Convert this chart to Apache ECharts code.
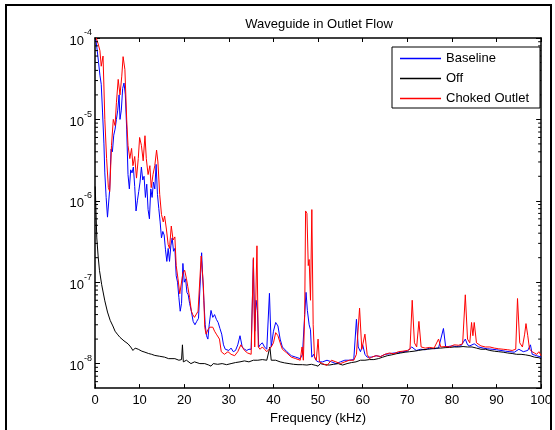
<!DOCTYPE html>
<html>
<head>
<meta charset="utf-8">
<script src="https://cdn.jsdelivr.net/npm/echarts@6/dist/echarts.min.js"></script>
<style>
html,body{margin:0;padding:0;background:#fff;}
#chart{width:555px;height:430px;}
</style>
</head>
<body>
<div id="chart"></div>
<script>
// ---------- data (frequency kHz, amplitude) ----------
const seriesNames = ['Baseline', 'Off', 'Choked Outlet'];
const titleText = 'Waveguide in Outlet Flow';
const xAxisName = 'Frequency (kHz)';
const xTicks = [0, 10, 20, 30, 40, 50, 60, 70, 80, 90, 100];
const yTickExponents = [-8, -7, -6, -5, -4];
const yMinorTicks = [6e-9,7e-9,8e-9,9e-9,
  2e-8,3e-8,4e-8,5e-8,6e-8,7e-8,8e-8,9e-8,
  2e-7,3e-7,4e-7,5e-7,6e-7,7e-7,8e-7,9e-7,
  2e-6,3e-6,4e-6,5e-6,6e-6,7e-6,8e-6,9e-6,
  2e-5,3e-5,4e-5,5e-5,6e-5,7e-5,8e-5,9e-5];

const baseline = [
[0.2,9.5e-5],[0.5,7e-5],[0.8,5e-5],[1.1,3.5e-5],[1.4,2.7e-5],[1.7,1.2e-5],[2.0,5e-6],[2.2,2.2e-6],[2.5,1.1e-6],[2.8,6.3e-7],
[3.0,6e-7],[3.3,1.4e-6],[3.6,4.3e-6],[3.9,4.0e-6],[4.2,6.4e-6],[4.5,7.6e-6],[4.8,1.0e-5],[5.1,1.3e-5],[5.4,2.0e-5],[5.6,1.0e-5],
[5.9,1.3e-5],[6.2,2.4e-5],[6.5,2.8e-5],[6.8,2.0e-5],[7.1,7.6e-6],[7.4,2.1e-6],[7.7,1.4e-6],[8.0,2.4e-6],[8.3,2.2e-6],[8.6,2.6e-6],
[8.9,1.5e-6],[9.2,7.5e-7],[9.5,1.0e-6],[9.8,1.3e-6],[10.1,1.7e-6],[10.4,2.6e-6],[10.7,1.8e-6],[11.0,2.0e-6],[11.3,1.1e-6],[11.6,1.6e-6],
[11.9,7.8e-7],[12.2,6e-7],[12.5,1.4e-6],[12.8,1.1e-6],[13.1,1.7e-6],[13.4,1.4e-6],[13.7,2.8e-6],[14.0,1.2e-6],[14.3,8e-7],[14.6,5.5e-7],
[14.9,3.5e-7],[15.2,4.2e-7],[15.5,3.8e-7],[15.8,2.5e-7],[16.1,1.8e-7],[16.4,2.6e-7],[16.7,1.8e-7],[17.0,2.8e-7],[17.3,3.5e-7],[17.6,2.4e-7],
[17.9,2.6e-7],[18.2,1.2e-7],[18.5,1.0e-7],[18.8,6.5e-8],[19.1,4.4e-8],[19.4,5.5e-8],[19.7,1.7e-7],[20.0,1.0e-7],[20.3,1.1e-7],[20.6,7.5e-8],
[20.9,7e-8],[21.2,5.5e-8],[21.6,4.4e-8],[22.0,3.3e-8],[22.4,3.0e-8],[22.8,3.3e-8],[23.2,3.6e-8],[23.6,3.5e-8],[23.9,2.3e-7],[24.1,1.3e-7],
[24.4,6e-8],[24.7,3e-8],[25.0,2.2e-8],[25.3,2.0e-8],[25.6,3e-8],[26.0,4.5e-8],[26.4,3.7e-8],[26.8,4e-8],[27.2,3.5e-8],[27.6,3.2e-8],
[28.0,2.7e-8],[28.4,2.3e-8],[28.8,1.7e-8],[29.2,1.5e-8],[29.6,1.55e-8],[30.0,1.45e-8],[30.5,1.55e-8],[31.0,1.4e-8],[31.5,1.45e-8],[32.0,1.7e-8],
[32.5,2.2e-8],[33.0,1.6e-8],[33.5,1.5e-8],[34.0,1.45e-8],[34.5,1.5e-8],[35.0,1.5e-8],[35.5,1.9e-7],[35.8,2.5e-8],[36.1,6e-8],[36.4,4.5e-8],
[36.7,1.6e-8],[37.0,1.7e-8],[37.5,1.8e-8],[38.0,1.6e-8],[38.5,1.5e-8],[39.1,7.3e-8],[39.5,1.6e-8],[40.0,2.5e-8],[40.5,3.2e-8],[41.0,2.9e-8],
[41.5,2.0e-8],[42.0,1.6e-8],[43.0,1.4e-8],[44.0,1.25e-8],[45.0,1.2e-8],[46.0,1.15e-8],[46.5,1.3e-8],[47.0,4e-8],[47.3,7.5e-8],[47.6,4.5e-8],
[48.0,3.0e-8],[48.3,2.6e-8],[48.6,1.2e-8],[49.0,1.3e-8],[49.5,1.1e-8],[50.0,1.05e-8],[51,1.05e-8],[52,1.1e-8],[53,1.05e-8],[54,1.0e-8],
[55,1.05e-8],[56,1.1e-8],[57,1.1e-8],[58,1.12e-8],[58.6,3.5e-8],[59.0,1.6e-8],[59.5,1.4e-8],[60.0,1.7e-8],[60.5,1.3e-8],[61,1.2e-8],
[62,1.2e-8],[63,1.25e-8],[64,1.22e-8],[65,1.3e-8],[66,1.32e-8],[67,1.35e-8],[68,1.36e-8],[69,1.4e-8],[70,1.42e-8],[71,1.6e-8],
[72,1.45e-8],[73,1.5e-8],[74,1.48e-8],[75,1.55e-8],[76,1.52e-8],[77,1.55e-8],[78.1,2.7e-8],[78.6,1.6e-8],[79,1.58e-8],[80,1.65e-8],
[81,1.62e-8],[82,1.65e-8],[83,2.0e-8],[83.5,1.7e-8],[84,1.65e-8],[85,1.75e-8],[86,1.6e-8],[87,1.55e-8],[88,1.52e-8],[89,1.5e-8],
[90,1.48e-8],[91,1.45e-8],[92,1.42e-8],[93,1.4e-8],[94,1.38e-8],[95,1.5e-8],[96,1.4e-8],[97,1.45e-8],[97.6,1.7e-8],[98,1.3e-8],
[99,1.25e-8],[100,1.2e-8]
];

const off = [
[0.05,1.5e-6],[0.2,8e-7],[0.4,3.5e-7],[0.7,2.1e-7],[1.0,1.4e-7],[1.5,9.3e-8],[2.2,5.9e-8],[2.8,4.3e-8],[3.4,3.4e-8],[4.0,2.9e-8],
[4.5,2.5e-8],[5.0,2.3e-8],[5.6,2.1e-8],[6.5,1.9e-8],[7.4,1.75e-8],[8.0,1.6e-8],[8.5,1.45e-8],[9.0,1.55e-8],[9.7,1.5e-8],[10.5,1.42e-8],
[11.2,1.38e-8],[12.0,1.33e-8],[12.7,1.3e-8],[13.4,1.26e-8],[14.5,1.23e-8],[15.6,1.2e-8],[16.5,1.15e-8],[17.9,1.15e-8],[18.8,1.1e-8],[19.4,1.12e-8],
[19.6,1.7e-8],[19.8,1.05e-8],[20.5,1.1e-8],[21.5,1.0e-8],[22.3,1.05e-8],[23.5,1.0e-8],[24.6,1.0e-8],[25.5,9.6e-9],[26.0,9.3e-9],[26.5,1.0e-8],
[27.5,9.8e-9],[28.5,1.0e-8],[29.5,9.7e-9],[30.5,1.0e-8],[31.5,1.03e-8],[32.5,1.05e-8],[33.5,1.08e-8],[34.5,1.05e-8],[35.5,1.1e-8],[36.5,1.1e-8],
[37.5,1.12e-8],[38.5,1.1e-8],[39.2,1.6e-8],[39.5,1.1e-8],[40.5,1.1e-8],[41.5,1.05e-8],[42.5,1.02e-8],[43.5,1.0e-8],[44.5,9.8e-9],[45.5,9.7e-9],
[46.5,9.7e-9],[47.5,9.6e-9],[48.5,9.8e-9],[49.5,9.5e-9],[50.0,9.3e-9],[50.5,1.0e-8],[51.5,9.7e-9],[52.5,9.6e-9],[53.5,9.8e-9],[54.5,1.0e-8],
[55.5,9.6e-9],[56.5,1.0e-8],[57.5,1.03e-8],[58.5,1.05e-8],[59.5,1.1e-8],[60.5,1.1e-8],[61.5,1.12e-8],[62.5,1.12e-8],[63.5,1.15e-8],[64.5,1.2e-8],
[65.5,1.25e-8],[66.5,1.28e-8],[67.5,1.32e-8],[68.5,1.35e-8],[69.5,1.38e-8],[70.5,1.4e-8],[71.5,1.42e-8],[72.5,1.45e-8],[73.5,1.48e-8],[74.5,1.5e-8],
[75.5,1.52e-8],[76.5,1.55e-8],[77.5,1.55e-8],[78.5,1.57e-8],[79.5,1.58e-8],[80.5,1.6e-8],[81.5,1.6e-8],[82.5,1.62e-8],[83.5,1.6e-8],[84.5,1.6e-8],
[85.5,1.55e-8],[86.5,1.5e-8],[87.5,1.5e-8],[88.5,1.45e-8],[89.5,1.42e-8],[90.5,1.4e-8],[91.5,1.38e-8],[92.5,1.35e-8],[93.5,1.33e-8],[94.5,1.3e-8],
[95.5,1.3e-8],[96.5,1.28e-8],[97.5,1.25e-8],[98.5,1.2e-8],[99.5,1.18e-8],[100,1.15e-8]
];

const choked = [
[0.3,1.0e-4],[0.7,8.5e-5],[1.1,7e-5],[1.4,4.5e-5],[1.8,6e-5],[2.0,2.5e-5],[2.2,1e-5],[2.6,3.3e-6],[3.0,1.45e-6],[3.3,1.3e-6],
[3.7,4.8e-6],[4.1,1.0e-5],[4.5,8.4e-6],[4.8,1.6e-5],[5.2,3.1e-5],[5.6,2.0e-5],[6.0,3.4e-5],[6.3,5.9e-5],[6.7,4.1e-5],[7.1,1.0e-5],
[7.4,4.8e-6],[7.8,3.3e-6],[8.2,4.4e-6],[8.5,2.7e-6],[8.9,3.5e-6],[9.3,1.9e-6],[9.7,3.3e-6],[10.0,6e-6],[10.4,4.8e-6],[10.8,3.1e-6],
[11.2,6.3e-6],[11.5,3.3e-6],[11.9,2.1e-6],[12.3,2.7e-6],[12.6,1.45e-6],[13.0,2.1e-6],[13.4,2.7e-6],[13.8,4.2e-6],[14.1,3.0e-6],[14.5,1.2e-6],
[14.9,6.8e-7],[15.3,5.5e-7],[15.6,6.5e-7],[16.0,4.5e-7],[16.4,2.9e-7],[16.7,2.6e-7],[17.1,4.9e-7],[17.5,3.3e-7],[17.9,3.6e-7],[18.2,1.6e-7],
[18.6,1.1e-7],[19.0,7.2e-8],[19.3,7.5e-8],[19.7,1.3e-7],[20.1,1.4e-7],[20.5,1.1e-7],[20.8,8.8e-8],[21.2,6.5e-8],[21.6,4.4e-8],[21.9,4.0e-8],
[22.3,3.7e-8],[22.7,3.6e-8],[23.1,4.4e-8],[23.4,4.4e-8],[23.8,2.1e-7],[24.0,1.5e-7],[24.3,9e-8],[24.6,2.8e-8],[24.9,2.3e-8],[25.3,2.6e-8],
[25.7,2.8e-8],[26.0,2.7e-8],[26.4,2.8e-8],[26.8,2.5e-8],[27.2,2.3e-8],[27.5,2.2e-8],[27.9,2.0e-8],[28.3,1.4e-8],[28.6,1.35e-8],[29.0,1.3e-8],
[29.8,1.4e-8],[30.5,1.3e-8],[31.3,1.25e-8],[32.0,1.4e-8],[32.7,1.7e-8],[33.5,1.45e-8],[34.2,1.35e-8],[35.0,1.3e-8],[35.5,2.0e-7],[35.8,1.6e-8],
[36.3,2.8e-7],[36.6,1.6e-8],[37.0,1.5e-8],[37.5,1.6e-8],[38.0,1.5e-8],[38.5,1.4e-8],[39.0,1.5e-8],[39.5,1.6e-8],[40.0,1.8e-8],[40.5,2.4e-8],
[41.0,2.2e-8],[41.5,1.8e-8],[42.0,1.5e-8],[43.0,1.35e-8],[44.0,1.2e-8],[45.0,1.15e-8],[46.0,1.1e-8],[46.4,1.6e-8],[46.7,1.1e-8],[47.0,4e-8],
[47.2,7.5e-7],[47.5,7e-7],[47.8,1.6e-7],[48.0,1.9e-7],[48.3,6e-8],[48.6,7.8e-7],[48.9,3e-8],[49.2,1.2e-8],[49.6,1.1e-8],[50.0,2.0e-8],
[50.3,1.05e-8],[51,1.0e-8],[52,9.5e-9],[53,1.1e-8],[54,1.05e-8],[55,1.0e-8],[56,1.05e-8],[57,1.1e-8],[58,1.1e-8],[58.6,1.3e-8],
[59.3,4.8e-8],[59.8,1.5e-8],[60.5,2.3e-8],[61,1.3e-8],[61.5,1.15e-8],[62,1.2e-8],[63,1.25e-8],[64,1.22e-8],[65,1.3e-8],[66,1.35e-8],
[67,1.32e-8],[68,1.4e-8],[69,1.42e-8],[70,1.45e-8],[70.6,1.5e-8],[71.1,6.0e-8],[71.6,1.8e-8],[72.1,1.6e-8],[72.6,3.3e-8],[73.1,1.6e-8],
[74,1.55e-8],[75,1.58e-8],[76,1.55e-8],[77,2.0e-8],[77.5,1.6e-8],[78.5,1.62e-8],[79.5,1.6e-8],[80.5,1.7e-8],[81.5,1.68e-8],[82.4,1.75e-8],
[83.0,7.0e-8],[83.5,2.0e-8],[84.0,1.8e-8],[84.4,3.2e-8],[84.7,2.2e-8],[85.0,3.2e-8],[85.5,1.8e-8],[86.5,1.65e-8],[87.5,1.6e-8],[88.5,1.6e-8],
[89.5,1.55e-8],[90.5,1.52e-8],[91.5,1.5e-8],[92.5,1.48e-8],[93.5,1.45e-8],[94.3,1.5e-8],[94.7,6.3e-8],[95.2,1.8e-8],[95.8,1.6e-8],[96.3,2.3e-8],
[96.6,3.1e-8],[97.0,2.2e-8],[97.4,1.5e-8],[98,1.4e-8],[98.5,1.35e-8],[99,1.3e-8],[99.5,1.4e-8],[100,1.25e-8]
];

// ---------- chart ----------
const FONT = "'Liberation Sans', Arial, sans-serif";
const FS = 13;
const X_MIN = xTicks[0], X_MAX = xTicks[xTicks.length - 1];
const Y_MIN = 5e-9, Y_MAX = Math.pow(10, yTickExponents[yTickExponents.length - 1]);

const chart = echarts.init(document.getElementById('chart'), null, {renderer: 'canvas'});

function yLabel(v) {
  const e = Math.log10(v);
  const r = Math.round(e);
  if (Math.abs(e - r) > 0.01 || yTickExponents.indexOf(r) < 0) return '';
  return '{b|10}{s|' + r + '}';
}

const option = {
  backgroundColor: '#fff',
  animation: false,
  textStyle: {fontFamily: FONT},
  grid: {left: 95, right: 12, top: 38, bottom: 40, containLabel: false},
  legend: {
    orient: 'vertical', left: 400, top: 49, padding: 0, itemGap: 1,
    itemWidth: 41, itemHeight: 1.5, icon: 'rect', z: 20, zlevel: 0,
    data: seriesNames,
    textStyle: {fontFamily: FONT, fontSize: FS, color: '#000', lineHeight: 19}
  },
  xAxis: [{
    type: 'value', min: X_MIN, max: X_MAX, interval: 10, position: 'bottom',
    name: xAxisName, nameLocation: 'middle', nameGap: 22,
    nameTextStyle: {fontFamily: FONT, fontSize: FS, color: '#000'},
    axisLine: {show: true, lineStyle: {color: '#000', width: 1.5}},
    axisTick: {show: true, inside: true, length: 4, lineStyle: {color: '#000'}},
    axisLabel: {show: true, margin: 6, fontFamily: FONT, fontSize: FS, color: '#000'},
    splitLine: {show: false}
  }, {
    type: 'value', min: X_MIN, max: X_MAX, interval: 10, position: 'top',
    axisLine: {show: true, onZero: false, lineStyle: {color: '#000', width: 1.5}},
    axisTick: {show: true, inside: true, length: 4, lineStyle: {color: '#000'}},
    axisLabel: {show: false}, splitLine: {show: false}
  }],
  yAxis: [{
    type: 'log', logBase: 10, min: Y_MIN, max: Y_MAX, position: 'left',
    axisLine: {show: true, onZero: false, lineStyle: {color: '#000', width: 1.5}},
    axisTick: {show: true, inside: true, length: 5, lineStyle: {color: '#000'}},
    axisLabel: {
      show: true, margin: 3, formatter: yLabel, showMinLabel: false,
      rich: {
        b: {fontFamily: FONT, fontSize: FS, color: '#000', verticalAlign: 'bottom', lineHeight: 19},
        s: {fontFamily: FONT, fontSize: 9, color: '#000', verticalAlign: 'top', lineHeight: 10}
      }
    },
    splitLine: {show: false}, minorTick: {show: false}
  }, {
    type: 'log', logBase: 10, min: Y_MIN, max: Y_MAX, position: 'right',
    axisLine: {show: true, onZero: false, lineStyle: {color: '#000', width: 1.5}},
    axisTick: {show: true, inside: true, length: 5, lineStyle: {color: '#000'}},
    axisLabel: {show: false}, splitLine: {show: false}
  }],
  graphic: [
    {type: 'rect', shape: {x: 6, y: 5, width: 545, height: 440}, style: {fill: 'none', stroke: '#000', lineWidth: 2}, silent: true, z: 0},
    {type: 'text', x: 319, y: 24, style: {text: titleText, font: FS + 'px ' + FONT, fill: '#000', textAlign: 'center', textVerticalAlign: 'middle'}, silent: true},
    {type: 'rect', shape: {x: 392, y: 47, width: 148, height: 61}, style: {fill: '#fff', stroke: '#000', lineWidth: 1}, silent: true, z: 4}
  ],
  series: [
    {name: seriesNames[0], type: 'line', data: baseline, showSymbol: false, symbol: 'none',
     lineStyle: {color: '#0000ff', width: 1}, itemStyle: {color: '#0000ff'}, z: 2},
    {name: seriesNames[1], type: 'line', data: off, showSymbol: false, symbol: 'none',
     lineStyle: {color: '#000000', width: 1}, itemStyle: {color: '#000000'}, z: 2},
    {name: seriesNames[2], type: 'line', data: choked, showSymbol: false, symbol: 'none',
     lineStyle: {color: '#ff0000', width: 1}, itemStyle: {color: '#ff0000'}, z: 2},
    {
      name: 'minorTicks', type: 'custom', silent: true, clip: false, z: 3,
      data: yMinorTicks.map(v => [X_MIN, v]),
      renderItem: function (params, api) {
        const v = api.value(1);
        const pl = api.coord([X_MIN, v]);
        const pr = api.coord([X_MAX, v]);
        return {
          type: 'group',
          children: [
            {type: 'line', shape: {x1: pl[0], y1: pl[1], x2: pl[0] + 3, y2: pl[1]}, style: {stroke: '#000', lineWidth: 1}},
            {type: 'line', shape: {x1: pr[0] - 3, y1: pr[1], x2: pr[0], y2: pr[1]}, style: {stroke: '#000', lineWidth: 1}}
          ]
        };
      }
    }
  ]
};
chart.setOption(option);
</script>
</body>
</html>
